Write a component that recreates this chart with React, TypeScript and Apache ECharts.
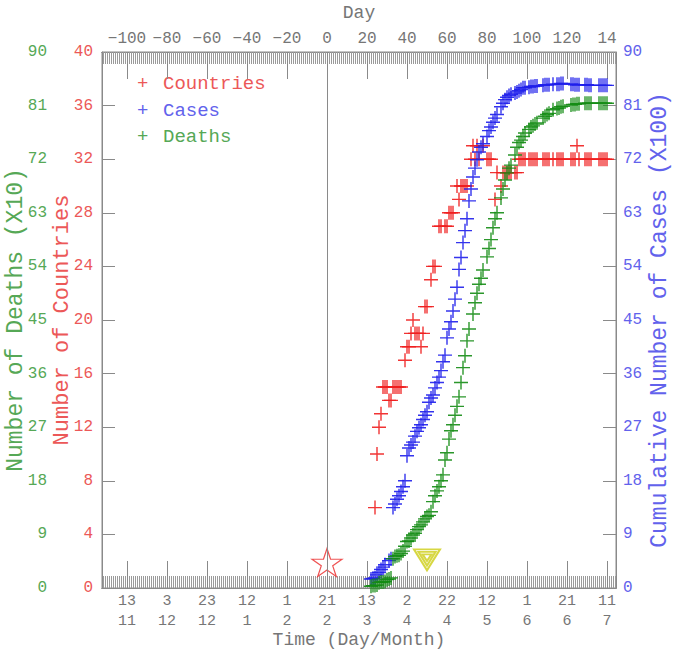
import React, { useEffect, useRef } from "react";
import * as echarts from "echarts";

// ---- Data (day 0 = 21 Feb) ----
const countriesData: [number, number][] = [
  [24, 6], [25, 10], [26, 12], [27, 13], [28, 15], [29, 15], [30, 15], [31, 14], [32, 14], [33, 15],
  [34, 15], [35, 15], [36, 15], [37, 15], [39, 17], [40, 18], [41, 18], [42, 19], [43, 20], [44, 19],
  [45, 19], [46, 19], [47, 18], [48, 19], [49, 21], [50, 21], [52, 23], [53, 24], [54, 24], [56, 27],
  [57, 27], [59, 27], [60, 27], [61, 28], [62, 28], [63, 28], [65, 30], [66, 29], [67, 30], [68, 30],
  [69, 30], [70, 30], [72, 32], [73, 33], [74, 32], [75, 33], [76, 32], [78, 33], [80, 32], [81, 32],
  [82, 32], [84, 29], [85, 31], [87, 30], [88, 31], [89, 31], [90, 31], [91, 31], [92, 31], [94, 31],
  [95, 31], [96, 32], [97, 32], [98, 32], [99, 32], [101, 32], [102, 32], [103, 32], [104, 32], [105, 32],
  [108, 32], [109, 32], [110, 32], [111, 32], [113, 32], [115, 32], [116, 32], [117, 32], [118, 32],
  [122, 32], [123, 32], [124, 32], [125, 33], [126, 32], [129, 32], [130, 32], [131, 32], [132, 32],
  [136, 32], [137, 32], [138, 32], [139, 32], [140, 32],
];

const casesData: [number, number][] = [
  [22, 1.5], [23, 1.6], [24, 1.7], [25, 2.2], [26, 2.6], [27, 3.1], [28, 3.5], [29, 3.9], [31, 4.6],
  [32, 4.9], [33, 13.5], [34, 14.1], [35, 14.9], [36, 15.5], [37, 16.2], [38, 17.0], [39, 18.0],
  [40, 22.2], [41, 23.5], [42, 24.0], [43, 24.5], [44, 25.5], [45, 26.3], [46, 26.9], [47, 27.4],
  [48, 28.3], [49, 29.0], [50, 29.6], [51, 31.2], [52, 31.9], [53, 32.4], [54, 33.6], [55, 34.5],
  [56, 35.4], [57, 36.5], [58, 38.0], [59, 39.1], [60, 42.0], [61, 43.5], [62, 44.7], [63, 46.5],
  [64, 48.5], [65, 50.5], [66, 53.5], [67, 55.5], [68, 58.0], [69, 60.0], [70, 62.0], [71, 65.0],
  [72, 67.0], [73, 69.0], [74, 70.5], [75, 71.9], [76, 73.2], [77, 74.0], [78, 74.6], [80, 75.8],
  [81, 76.8], [82, 77.4], [83, 78.2], [84, 78.9], [85, 79.5], [87, 80.8], [88, 81.4], [89, 82.0],
  [90, 82.4], [91, 82.7], [92, 82.9], [94, 83.1], [95, 83.3], [96, 83.5], [97, 83.7], [98, 84.0],
  [99, 84.0], [101, 84.1], [102, 84.2], [103, 84.2], [104, 84.3], [105, 84.3], [108, 84.4], [109, 84.5],
  [110, 84.5], [111, 84.5], [113, 84.6], [115, 84.6], [116, 84.6], [117, 84.7], [118, 84.7], [122, 84.6],
  [123, 84.6], [124, 84.5], [125, 84.5], [126, 84.5], [129, 84.5], [130, 84.5], [131, 84.4], [132, 84.4],
  [136, 84.4], [137, 84.4], [138, 84.4], [139, 84.4], [140, 84.4],
];

const deathsData: [number, number][] = [
  [22, 0.3], [23, 0.4], [24, 0.4], [25, 0.5], [26, 0.9], [27, 1.0], [28, 1.0], [29, 1.1], [30, 1.4],
  [31, 1.5], [32, 1.7], [33, 4.9], [34, 5.3], [35, 5.4], [36, 5.5], [37, 5.8], [38, 6.2], [39, 7.0],
  [40, 7.8], [41, 7.9], [42, 8.4], [43, 8.9], [44, 9.2], [45, 9.8], [46, 10.3], [47, 10.6], [48, 11.1],
  [49, 11.6], [50, 12.0], [51, 12.2], [52, 12.8], [53, 14.5], [54, 15.5], [55, 16.3], [56, 17.0],
  [57, 18.0], [58, 19.0], [59, 21.5], [60, 22.7], [61, 25.0], [62, 26.4], [63, 27.4], [64, 29.0],
  [65, 30.5], [66, 32.1], [67, 34.5], [68, 37.0], [69, 39.0], [70, 41.5], [71, 43.5], [73, 46.0],
  [74, 47.9], [75, 49.5], [76, 51.0], [77, 52.0], [78, 53.4], [80, 55.6], [81, 57.0], [82, 58.5],
  [83, 60.5], [84, 62.0], [85, 63.0], [87, 65.5], [88, 67.0], [89, 68.5], [90, 69.7], [91, 70.5],
  [92, 71.0], [94, 72.7], [95, 74.0], [96, 74.8], [97, 75.2], [98, 75.8], [99, 76.4], [101, 77.0],
  [102, 77.4], [103, 77.6], [104, 77.9], [105, 78.1], [108, 78.9], [109, 79.2], [110, 79.5], [111, 79.7],
  [113, 80.3], [115, 80.5], [116, 80.6], [117, 80.8], [118, 80.9], [122, 81.1], [123, 81.2], [124, 81.2],
  [125, 81.3], [126, 81.3], [129, 81.4], [130, 81.4], [131, 81.4], [132, 81.4], [136, 81.4], [137, 81.4],
  [138, 81.4], [139, 81.4], [140, 81.4],
];

// event markers (day, value on the countries scale)
const starEvent: [number, number][] = [[0, 1.9]];
const triangleEvent: [number, number][] = [[50, 2.1]];

// axes
const tickDays = [-100, -80, -60, -40, -20, 0, 20, 40, 60, 80, 100, 120, 140];
const dayLabels = ["\u2212100", "\u221280", "\u221260", "\u221240", "\u221220", "0", "20", "40", "60", "80", "100", "120", "14"];
const dateLabels = ["13\n11", "3\n12", "23\n12", "12\n1", "1\n2", "21\n2", "13\n3", "2\n4", "22\n4", "12\n5", "1\n6", "21\n6", "11\n7"];
const X_MIN = -112.5;
const X_MAX = 144.5;

const FONT = '"Liberation Mono", "DejaVu Sans Mono", monospace';
const RED_TXT = "rgb(236,88,88)";
const BLUE_TXT = "rgb(98,98,236)";
const GREEN_TXT = "rgb(86,168,86)";
const GRAY_TXT = "rgb(118,118,118)";
const AXIS_GRAY = "#8a8a8a";

const PLUS = "path://M0,6.3H14V7.7H0Z M6.3,0H7.7V14H6.3Z";
const STAR = "path://M14,0 L17.14,9.67 L27.31,9.67 L19.09,15.65 L22.23,25.33 L14,19.35 L5.77,25.33 L8.91,15.65 L0.69,9.67 L10.86,9.67 Z";
const TRI = "path://M0,0 L26,0 L13,21 Z M4.5,2.6 L21.5,2.6 L13,16.2 Z M8.6,5 L17.4,5 L13,11.6 Z";

export default function App() {
  const ref = useRef<HTMLDivElement>(null);
  useEffect(() => {
    if (!ref.current) return;
    const chart = echarts.init(ref.current, null, { renderer: "svg" });
    const minorDays: number[] = [];
    for (let d = Math.ceil(X_MIN); d <= Math.floor(X_MAX); d++) minorDays.push(d);
    const labelOf = (arr: string[]) => (v: number) => {
      const i = tickDays.indexOf(Math.round(v));
      return i >= 0 ? arr[i] : "";
    };
    const baseX = {
      type: "value",
      min: X_MIN,
      max: X_MAX,
      splitLine: { show: false },
      axisLine: { show: true, onZero: false, lineStyle: { color: AXIS_GRAY } },
    };
    // dense one-day ticks
    const minorAxis = (position: string) => ({
      ...baseX,
      position,
      axisTick: { show: true, inside: true, length: 12, customValues: minorDays, lineStyle: { color: "#9a9a9a", width: 1 } },
      axisLabel: { show: false },
    });
    // 20-day ticks (nice interval 20 from splitNumber)
    const majorAxis = (position: string) => ({
      ...baseX,
      position,
      splitNumber: 13,
      axisTick: { show: true, inside: true, length: 27, lineStyle: { color: AXIS_GRAY, width: 1 } },
      axisLabel: { show: false },
    });
    const option: any = {
      animation: false,
      backgroundColor: "#fff",
      grid: {
        left: 102, right: 59, top: 52, bottom: 66,
        show: true, borderColor: AXIS_GRAY, borderWidth: 1,
        containLabel: false, outerBoundsMode: "none",
      },
      xAxis: [
        {
          ...baseX, position: "bottom",
          name: "Time (Day/Month)", nameLocation: "middle", nameGap: 43, nameMoveOverlap: false,
          nameTextStyle: { color: GRAY_TXT, fontFamily: FONT, fontSize: 18 },
          axisTick: { show: false },
          axisLabel: {
            customValues: tickDays, formatter: labelOf(dateLabels), color: GRAY_TXT,
            fontFamily: FONT, fontSize: 15, lineHeight: 20, margin: 3,
          },
        },
        minorAxis("bottom"),
        majorAxis("bottom"),
        {
          ...baseX, position: "top",
          name: "Day", nameLocation: "middle", nameGap: 30, nameMoveOverlap: false,
          nameTextStyle: { color: GRAY_TXT, fontFamily: FONT, fontSize: 18 },
          axisTick: { show: false },
          axisLabel: {
            customValues: tickDays, formatter: labelOf(dayLabels), color: GRAY_TXT,
            fontFamily: FONT, fontSize: 16, margin: 5,
          },
        },
        minorAxis("top"),
        majorAxis("top"),
      ],
      yAxis: [
        {
          type: "value", position: "left", min: 0, max: 40, interval: 4,
          name: "Number of Countries", nameLocation: "middle", nameGap: 29, nameMoveOverlap: false,
          nameTextStyle: { color: RED_TXT, fontFamily: FONT, fontSize: 22 },
          axisLine: { show: true, onZero: false, lineStyle: { color: AXIS_GRAY } },
          axisTick: { show: true, inside: true, length: 13, lineStyle: { color: AXIS_GRAY } },
          axisLabel: { color: RED_TXT, fontFamily: FONT, fontSize: 16, margin: 9 },
          splitLine: { show: false },
        },
        {
          type: "value", position: "left", offset: 46, min: 0, max: 90, interval: 9,
          name: "Number of Deaths (X10)", nameLocation: "middle", nameGap: 29, nameMoveOverlap: false,
          nameTextStyle: { color: GREEN_TXT, fontFamily: FONT, fontSize: 23 },
          axisLine: { show: false, onZero: false }, axisTick: { show: false },
          axisLabel: { color: GREEN_TXT, fontFamily: FONT, fontSize: 16, margin: 9 },
          splitLine: { show: false },
        },
        {
          type: "value", position: "right", min: 0, max: 90, interval: 9,
          name: "Cumulative Number of Cases (X100)", nameLocation: "middle", nameGap: 32, nameMoveOverlap: false,
          nameTextStyle: { color: BLUE_TXT, fontFamily: FONT, fontSize: 23 },
          axisLine: { show: true, onZero: false, lineStyle: { color: AXIS_GRAY } },
          axisTick: { show: true, inside: true, length: 13, lineStyle: { color: AXIS_GRAY } },
          axisLabel: { color: BLUE_TXT, fontFamily: FONT, fontSize: 16, margin: 7 },
          splitLine: { show: false },
        },
      ],
      series: [
        {
          name: "Countries", type: "scatter", xAxisIndex: 0, yAxisIndex: 0,
          data: countriesData, symbol: PLUS, symbolSize: 14,
          itemStyle: { color: "rgb(240,30,30)", opacity: 0.9 },
          markLine: {
            silent: true, symbol: "none", label: { show: false },
            lineStyle: { color: AXIS_GRAY, width: 1, type: "solid" },
            data: [{ xAxis: 0 }],
          },
        },
        {
          name: "Cases", type: "scatter", xAxisIndex: 0, yAxisIndex: 2,
          data: casesData, symbol: PLUS, symbolSize: 14,
          itemStyle: { color: "rgb(30,30,235)", opacity: 0.9 },
        },
        {
          name: "Deaths", type: "scatter", xAxisIndex: 0, yAxisIndex: 1,
          data: deathsData, symbol: PLUS, symbolSize: 14,
          itemStyle: { color: "rgb(20,140,20)", opacity: 0.9 },
        },
        {
          name: "star", type: "scatter", xAxisIndex: 0, yAxisIndex: 0,
          data: starEvent, symbol: STAR, symbolSize: [30, 28],
          itemStyle: { color: "rgba(255,255,255,0)", borderColor: "rgb(235,40,40)", borderWidth: 1.2 },
        },
        {
          name: "triangle", type: "scatter", xAxisIndex: 0, yAxisIndex: 0,
          data: triangleEvent, symbol: TRI, symbolSize: [26, 21],
          itemStyle: { color: "rgba(255,255,255,0)", borderColor: "rgb(205,205,20)", borderWidth: 2 },
        },
      ],
      graphic: [
        { type: "text", x: 137, y: 84, style: { text: "+", fill: RED_TXT, font: `19px ${FONT}`, verticalAlign: "middle" } },
        { type: "text", x: 163, y: 84, style: { text: "Countries", fill: RED_TXT, font: `19px ${FONT}`, verticalAlign: "middle" } },
        { type: "text", x: 137, y: 111, style: { text: "+", fill: BLUE_TXT, font: `19px ${FONT}`, verticalAlign: "middle" } },
        { type: "text", x: 163, y: 111, style: { text: "Cases", fill: BLUE_TXT, font: `19px ${FONT}`, verticalAlign: "middle" } },
        { type: "text", x: 137, y: 137, style: { text: "+", fill: GREEN_TXT, font: `19px ${FONT}`, verticalAlign: "middle" } },
        { type: "text", x: 163, y: 137, style: { text: "Deaths", fill: GREEN_TXT, font: `19px ${FONT}`, verticalAlign: "middle" } },
      ],
    };
    chart.setOption(option);
    return () => chart.dispose();
  }, []);
  return (
    <div
      ref={ref}
      style={{ position: "absolute", left: 0, top: 0, width: 675, height: 654, background: "#fff" }}
    />
  );
}
